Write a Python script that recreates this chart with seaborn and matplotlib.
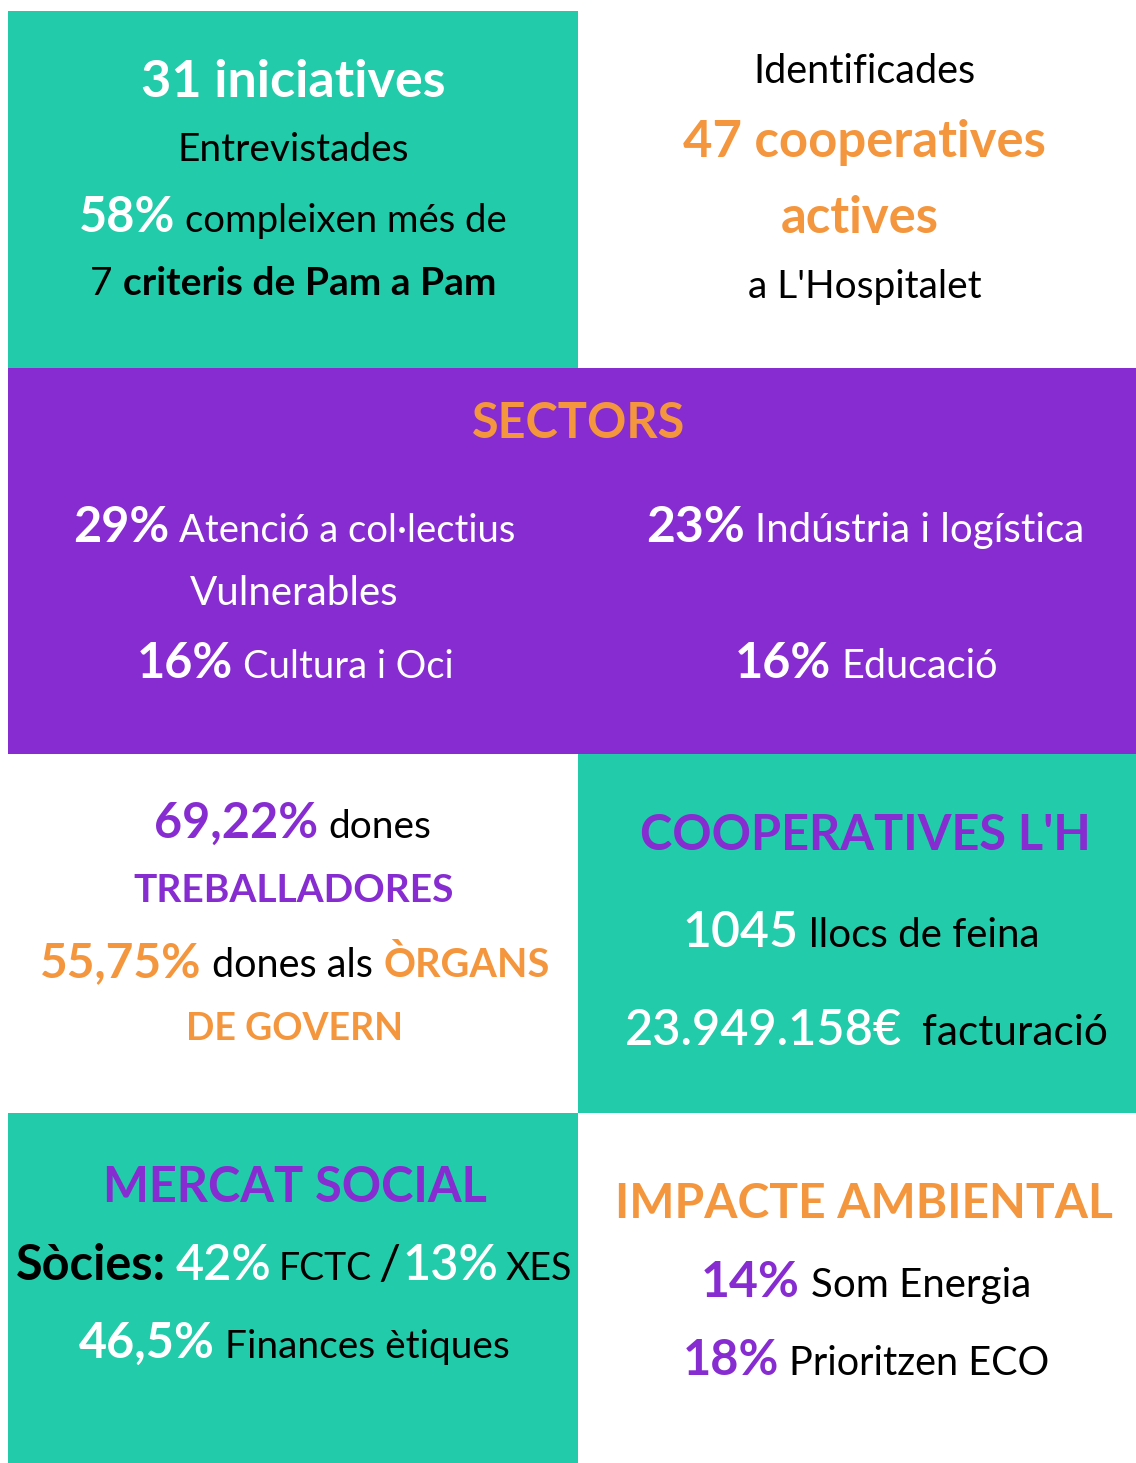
import matplotlib
matplotlib.use("Agg")
import matplotlib.pyplot as plt
from matplotlib.patches import Rectangle
import seaborn as sns

# --- data -------------------------------------------------------------
iniciatives = "31"
pct_criteris = "58%"
num_criteris = "7"
cooperatives_actives = "47"
sector_pct = ["29%", "23%", "16%", "16%"]
sector_names = ["Atenció a col·lectius", "Indústria i logística", "Cultura i Oci", "Educació"]
sector_extra = "Vulnerables"
dones_treballadores = "69,22%"
dones_organs = "55,75%"
llocs_feina = "1045"
facturacio = "23.949.158€"
socies_pct = ["42%", "13%"]
socies_xarxes = ["FCTC", "XES"]
finances_etiques = "46,5%"
impacte_pct = ["14%", "18%"]
impacte_names = ["Som Energia", "Prioritzen ECO"]

TEAL = "#22CBA9"
PURPLE = "#862CD0"
ORANGE = "#F4963D"
WHITE = "#FFFFFF"
BLACK = "#000000"

W, H = 1136, 1463

sns.set_theme(style="white")
plt.rcParams["font.family"] = ["Lato", "DejaVu Sans"]

fig = plt.figure(figsize=(W / 100, H / 100), dpi=100)
ax = fig.add_axes([0, 0, 1, 1])
ax.set_xlim(0, W)
ax.set_ylim(H, 0)
ax.axis("off")

# background blocks (x0, y0, x1, y1, colour)
blocks = [
    (8, 11, 578, 368, TEAL),
    (8, 368, 1136, 754, PURPLE),
    (578, 754, 1136, 1113, TEAL),
    (8, 1113, 578, 1463, TEAL),
]
for x0, y0, x1, y1, c in blocks:
    ax.add_patch(Rectangle((x0, y0), x1 - x0, y1 - y0, color=c, lw=0))

renderer = fig.canvas.get_renderer()


def line(cx, y, segs, gaps=None):
    """segs: (text, colour, size, weight); centred on cx, baseline y"""
    texts = []
    widths = []
    for s, c, size, wt in segs:
        t = ax.text(0, y, s, color=c, fontsize=size, fontweight=wt,
                    ha="left", va="baseline")
        texts.append(t)
        widths.append(t.get_window_extent(renderer).width)
    if gaps is None:
        gaps = [0.26 * min(segs[i][2], segs[i + 1][2]) * 100 / 72
                for i in range(len(segs) - 1)]
    total = sum(widths) + sum(gaps)
    x = cx - total / 2
    for i, t in enumerate(texts):
        t.set_x(x)
        x += widths[i] + (gaps[i] if i < len(gaps) else 0)


B, N = "bold", "normal"

# top-left
line(293, 97, [(iniciatives + " iniciatives", WHITE, 37.5, B)])
line(293, 161, [("Entrevistades", BLACK, 28, N)])
line(293, 232, [(pct_criteris, WHITE, 35, B), ("compleixen més de", BLACK, 27.5, N)])
line(293, 295, [(num_criteris, BLACK, 28, N), ("criteris de Pam a Pam", BLACK, 28, B)])

# top-right
line(864, 83, [("Identificades", BLACK, 28.5, N)])
line(864, 157, [(cooperatives_actives + " cooperatives", ORANGE, 36.5, B)])
line(860, 233, [("actives", ORANGE, 36.5, B)])
line(865, 298, [("a L'Hospitalet", BLACK, 28, N)])

# sectors
line(579, 438, [("SECTORS", ORANGE, 35, B)])
line(294, 542, [(sector_pct[0], WHITE, 35, B), (sector_names[0], WHITE, 27.5, N)])
line(294, 605, [(sector_extra, WHITE, 29, N)])
line(295, 678, [(sector_pct[2], WHITE, 35, B), (sector_names[2], WHITE, 27.5, N)])
line(865, 542, [(sector_pct[1], WHITE, 36, B), (sector_names[1], WHITE, 29, N)])
line(866, 678, [(sector_pct[3], WHITE, 35, B), (sector_names[3], WHITE, 28.5, N)])

# dones
line(293, 838, [(dones_treballadores, PURPLE, 35, B), ("dones", BLACK, 28, N)])
line(294, 902, [("TREBALLADORES", PURPLE, 28, B)])
line(295, 977, [(dones_organs, ORANGE, 34.5, B), ("dones als", BLACK, 28.5, N),
                ("ÒRGANS", ORANGE, 28.5, B)])
line(294, 1040, [("DE GOVERN", ORANGE, 27, B)])

# cooperatives L'H
line(865, 850, [("COOPERATIVES L'H", PURPLE, 35, B)])
line(861, 947, [(llocs_feina, WHITE, 36, "semibold"), ("llocs de feina", BLACK, 29, N)])
line(866, 1045, [(facturacio, WHITE, 35, "semibold"), ("facturació", BLACK, 30.5, N)], gaps=[20])

# mercat social
line(295, 1202, [("MERCAT SOCIAL", PURPLE, 35, B)])
line(294, 1280, [("Sòcies:", BLACK, 35, B), (socies_pct[0], WHITE, 35, "semibold"),
                 (socies_xarxes[0], BLACK, 27, N), ("/", BLACK, 35, N),
                 (socies_pct[1], WHITE, 35, "semibold"), (socies_xarxes[1], BLACK, 27, N)],
     gaps=[10, 7, 7, 2, 7])
line(294, 1358, [(finances_etiques, WHITE, 35, B), ("Finances ètiques", BLACK, 28, N)])

# impacte ambiental
line(864, 1218, [("IMPACTE AMBIENTAL", ORANGE, 34.5, B)])
line(866, 1297, [(impacte_pct[0], PURPLE, 36, B), (impacte_names[0], BLACK, 29, N)])
line(866, 1375, [(impacte_pct[1], PURPLE, 35, B), (impacte_names[1], BLACK, 28.5, N)])

fig.savefig("out.png", dpi=100, facecolor="white")
